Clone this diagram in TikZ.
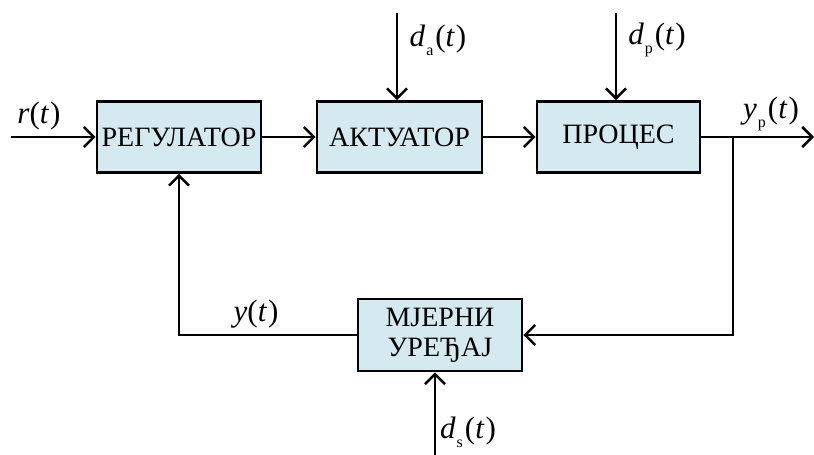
\documentclass[tikz,border=0pt]{standalone}
\usepackage{fontspec}
\setmainfont{Liberation Serif}
\usetikzlibrary{arrows.meta}
\definecolor{boxfill}{RGB}{212,234,240}
\newcommand{\sigl}[2]{\textit{#1}\kern1pt\raisebox{-0.28em}{\fontsize{16}{16}\selectfont #2}\kern2pt(\textit{t}\kern1pt)}
\begin{document}
\begin{tikzpicture}[x=1pt,y=-1pt,
  font=\fontsize{28}{30}\selectfont,
  lbl/.style={font=\fontsize{31}{33}\selectfont, inner sep=0pt},
  blk/.style={draw, line width=2.6pt, fill=boxfill, inner sep=0pt, align=center},
  conn/.style={line width=2.6pt, -{Straight Barb[length=10pt,width=20pt]}}]
\useasboundingbox (0,0) rectangle (814,455);
\node[blk, minimum width=164pt, minimum height=71pt] (reg) at (179,137) {РЕГУЛАТОР};
\node[blk, minimum width=165pt, minimum height=71pt] (akt) at (399.5,137) {АКТУАТОР};
\node[blk, minimum width=163pt, minimum height=71pt] (proc) at (618.5,137) {ПРОЦЕС};
\node[blk, minimum width=164pt, minimum height=72pt] (mjer) at (440,335) {МЈЕРНИ\\УРЕЂАЈ};
\coordinate (in) at (11,137);
\coordinate (out) at (814,137);
\coordinate (br) at (733,137);
\coordinate (da) at (397,13);
\coordinate (dp) at (616,13);
\coordinate (ds) at (435,455);
\draw[conn] (in) -- (reg.west);
\draw[conn] (reg.east) -- (akt.west);
\draw[conn] (akt.east) -- (proc.west);
\draw[conn] (proc.east) -- (out);
\draw[conn] (br) |- (mjer.east);
\draw[conn] (mjer.west) -| (reg.south);
\draw[conn] (da) -- (da |- akt.north);
\draw[conn] (dp) -- (dp |- proc.north);
\draw[conn] (ds) -- (ds |- mjer.south);
\node[lbl] (lr) at (39,116) {\textit{r}(\textit{t}\kern1pt)};
\node[lbl] (lda) at (438,40) {\sigl{d}{a}};
\node[lbl] (ldp) at (657,40) {\sigl{d}{p}};
\node[lbl] (lyp) at (771,114) {\sigl{y}{p}};
\node[lbl] (ly) at (256,314) {\textit{y}(\textit{t}\kern1pt)};
\node[lbl] (lds) at (468,432) {\sigl{d}{s}};
\end{tikzpicture}
\end{document}
